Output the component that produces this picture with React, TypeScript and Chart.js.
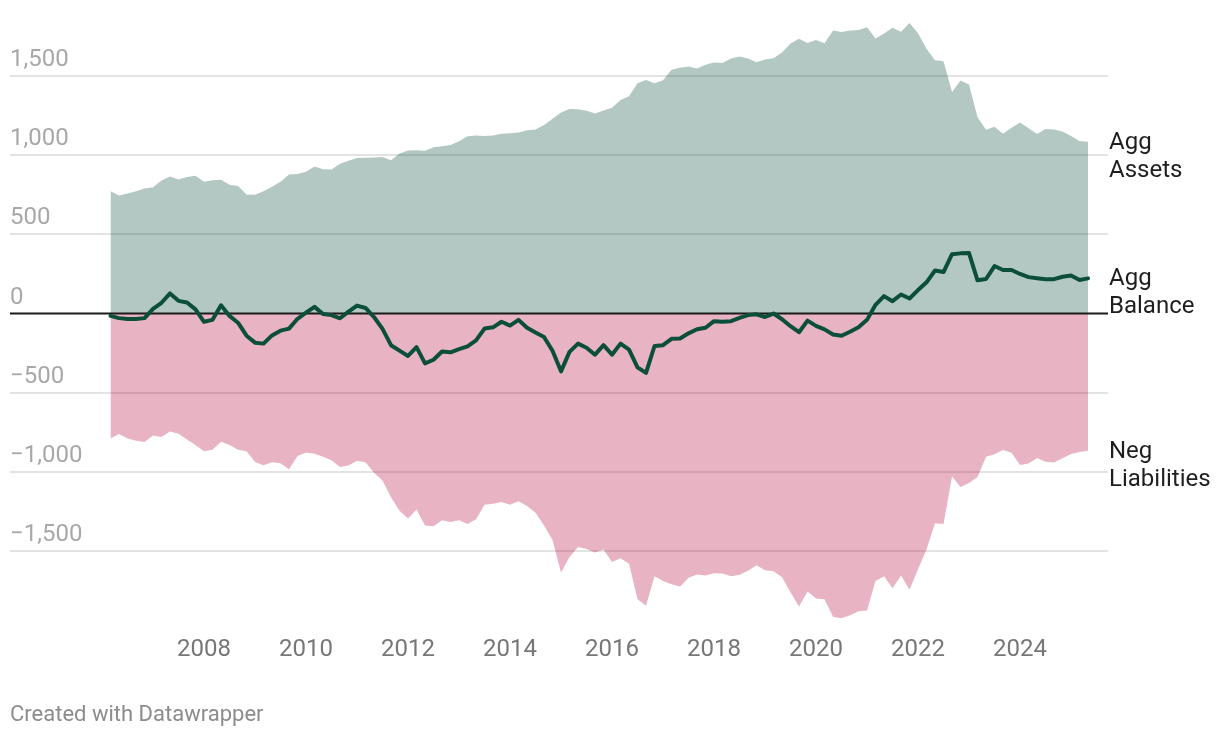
import { useEffect, useRef } from "react";
import { Chart, registerables } from "chart.js";

Chart.register(...registerables);

// Bi-monthly observations, Feb 2006 .. Apr 2025 (end of month)
const months: string[] = [];
for (let i = 0; i < 116; i++) {
  const tm = 2006 * 12 + 1 + 2 * i;
  const y = Math.floor(tm / 12);
  const m = (tm % 12) + 1;
  months.push(`${y}-${String(m).padStart(2, "0")}`);
}

const aggAssets = [
  772, 745, 758, 772, 790, 797, 840, 866, 846, 862,
  870, 832, 842, 845, 814, 806, 752, 750, 772, 800,
  832, 878, 882, 895, 928, 912, 910, 946, 965, 983,
  984, 986, 988, 968, 1010, 1030, 1032, 1028, 1051, 1056,
  1065, 1088, 1120, 1125, 1122, 1125, 1136, 1138, 1143, 1158,
  1163, 1190, 1230, 1270, 1292, 1290, 1280, 1263, 1282, 1300,
  1348, 1372, 1455, 1475, 1455, 1474, 1540, 1553, 1560, 1548,
  1572, 1586, 1582, 1610, 1624, 1610, 1587, 1605, 1612, 1648,
  1705, 1736, 1709, 1728, 1707, 1787, 1778, 1788, 1790, 1808,
  1737, 1768, 1805, 1780, 1835, 1770, 1673, 1600, 1593, 1399,
  1472, 1447, 1240, 1160, 1180, 1135, 1173, 1206, 1170, 1134,
  1165, 1163, 1150, 1122, 1090, 1085,
];

const negLiabilities = [
  -789, -761, -790, -804, -812, -770, -780, -745, -760, -795,
  -830, -870, -860, -810, -830, -860, -870, -937, -958, -940,
  -945, -983, -900, -877, -885, -905, -926, -970, -960, -930,
  -940, -1005, -1055, -1160, -1245, -1294, -1238, -1338, -1344, -1305,
  -1317, -1306, -1330, -1300, -1208, -1202, -1190, -1208, -1185, -1215,
  -1258, -1338, -1430, -1635, -1537, -1475, -1487, -1510, -1490, -1570,
  -1545, -1580, -1805, -1845, -1660, -1690, -1710, -1725, -1669, -1648,
  -1655, -1640, -1642, -1660, -1650, -1625, -1590, -1622, -1627, -1665,
  -1760, -1850, -1755, -1800, -1805, -1915, -1925, -1905, -1881, -1875,
  -1690, -1660, -1735, -1655, -1745, -1615, -1490, -1325, -1330, -1030,
  -1095, -1070, -1032, -905, -888, -862, -880, -956, -947, -912,
  -936, -941, -914, -887, -874, -867,
];

const aggBalance = [
  -15, -29, -35, -35, -29, 30, 68, 127, 80, 70,
  26, -52, -40, 52, -15, -58, -140, -184, -190, -138,
  -108, -95, -33, 5, 42, -3, -10, -30, 12, 50,
  35, -22, -97, -200, -234, -268, -212, -315, -292, -240,
  -245, -225, -207, -170, -95, -87, -52, -76, -40, -90,
  -120, -148, -235, -365, -242, -190, -216, -260, -200, -260,
  -190, -228, -340, -375, -205, -200, -160, -158, -125, -99,
  -90, -48, -52, -48, -28, -10, -5, -22, 0, -36,
  -80, -118, -45, -78, -100, -132, -140, -115, -87, -40,
  55, 110, 78, 120, 95, 148, 197, 272, 262, 375,
  380, 382, 210, 218, 300, 275, 275, 250, 230, 223,
  217, 217, 232, 240, 212, 222,
];

const xTicks = [2008, 2010, 2012, 2014, 2016, 2018, 2020, 2022, 2024];
const yTicks = [-1500, -1000, -500, 0, 500, 1000, 1500];

const seriesLabels = [
  { lines: ["Agg", "Assets"], values: aggAssets },
  { lines: ["Agg", "Balance"], values: aggBalance },
  { lines: ["Neg", "Liabilities"], values: negLiabilities },
];

const toYear = (label: string) => {
  const [y, m] = label.split("-").map(Number);
  return y + m / 12;
};

const pts = (vals: number[]) => vals.map((v, i) => ({ x: toYear(months[i]), y: v }));

const fmt = (v: number) => {
  const s = Math.abs(v).toLocaleString("en-US");
  return v < 0 ? "\u2212" + s : s;
};

const FONT = "Roboto, 'Noto Sans', sans-serif";

const overlay = {
  id: "overlay",
  beforeDatasetDraw(chart: any, args: any) {
    if (args.index !== 0) return;
    const { ctx, chartArea, scales } = chart;
    const y0 = scales.y.getPixelForValue(0);
    ctx.save();
    ctx.strokeStyle = "#1b1b1b";
    ctx.lineWidth = 2;
    ctx.beginPath();
    ctx.moveTo(chartArea.left, y0);
    ctx.lineTo(chartArea.right, y0);
    ctx.stroke();
    ctx.restore();
  },
  afterDraw(chart: any) {
    const { ctx, chartArea, scales } = chart;
    ctx.save();
    // y tick labels above gridlines
    ctx.font = `24px ${FONT}`;
    ctx.fillStyle = "#a8a8a8";
    ctx.textAlign = "left";
    ctx.textBaseline = "alphabetic";
    yTicks.forEach((v) => {
      const y = scales.y.getPixelForValue(v);
      ctx.fillText(fmt(v), chartArea.left, y - 10);
    });
    // series labels at the right
    ctx.font = `24px ${FONT}`;
    ctx.fillStyle = "#1f1f1f";
    ctx.textBaseline = "middle";
    seriesLabels.forEach((s) => {
      const y = scales.y.getPixelForValue(s.values[s.values.length - 1]);
      s.lines.forEach((line, i) => {
        ctx.fillText(line, chartArea.right + 1, y + 1 + i * 28);
      });
    });
    // credit
    ctx.font = `22px ${FONT}`;
    ctx.fillStyle = "#8c8c8c";
    ctx.textBaseline = "middle";
    ctx.fillText("Created with Datawrapper", 10, 715);
    ctx.restore();
  },
};

export default function App() {
  const ref = useRef<HTMLCanvasElement | null>(null);

  useEffect(() => {
    if (!ref.current) return;
    Chart.defaults.font.family = FONT;
    const chart = new Chart(ref.current, {
      type: "line",
      data: {
        datasets: [
          {
            label: "Agg Balance",
            data: pts(aggBalance),
            borderColor: "#0b4f3a",
            borderWidth: 4,
            borderJoinStyle: "round",
            borderCapStyle: "round",
            pointRadius: 0,
            fill: false,
            tension: 0,
          },
          {
            label: "Agg Assets",
            data: pts(aggAssets),
            borderWidth: 0,
            borderColor: "rgba(0,0,0,0)",
            backgroundColor: "rgba(8,72,55,0.3)",
            pointRadius: 0,
            fill: "origin",
            tension: 0,
          },
          {
            label: "Neg Liabilities",
            data: pts(negLiabilities),
            borderWidth: 0,
            borderColor: "rgba(0,0,0,0)",
            backgroundColor: "rgba(178,2,55,0.3)",
            pointRadius: 0,
            fill: "origin",
            tension: 0,
          },
        ],
      },
      options: {
        animation: false,
        responsive: true,
        maintainAspectRatio: false,
        layout: { padding: { left: 10, right: 112, top: 12.7, bottom: 67.8 } },
        plugins: { legend: { display: false }, tooltip: { enabled: false } },
        scales: {
          x: {
            type: "linear",
            min: 2004.196,
            max: 2025.725,
            afterBuildTicks: (axis: any) => {
              axis.ticks = xTicks.map((v) => ({ value: v }));
            },
            afterFit: (axis: any) => {
              axis.height = 40;
            },
            ticks: {
              callback: (v: any) => String(v),
              font: { size: 24, family: FONT },
              color: "#777777",
              padding: 5.5,
              maxRotation: 0,
              autoSkip: false,
            },
            grid: { display: false, drawTicks: false },
            border: { display: false },
          },
          y: {
            type: "linear",
            min: -2000,
            max: 1900,
            afterBuildTicks: (axis: any) => {
              axis.ticks = yTicks.map((v) => ({ value: v }));
            },
            ticks: { display: false },
            grid: {
              drawTicks: false,
              lineWidth: 2,
              color: (c: any) => (c.tick && c.tick.value === 0 ? "rgba(0,0,0,0)" : "#e3e3e3"),
            },
            border: { display: false },
          },
        },
      },
      plugins: [overlay],
    });
    return () => chart.destroy();
  }, []);

  return (
    <div style={{ position: "fixed", left: 0, top: 0, width: 1220, height: 738, background: "#fff" }}>
      <canvas ref={ref} />
    </div>
  );
}
